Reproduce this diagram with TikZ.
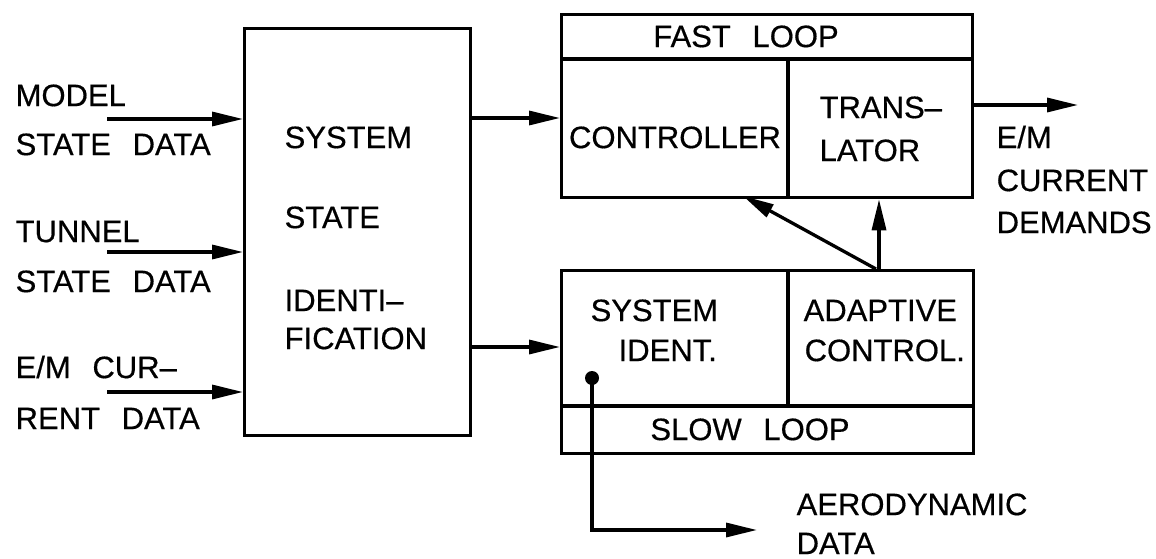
\documentclass[tikz,border=0pt]{standalone}
\usepackage{fontspec}
\setmainfont{Liberation Sans}[FakeBold=0.5]
\usetikzlibrary{arrows.meta}
\newcommand\wsp{\hspace{0.7em}}
\begin{document}
\begin{tikzpicture}[x=1pt,y=-1pt,line width=3.3pt,
  lbl/.style={font=\fontsize{31}{36}\selectfont,inner sep=0pt,text height=22.2pt,text depth=0pt,anchor=west},
  clbl/.style={lbl,anchor=center},
  box/.style={draw,anchor=north west,inner sep=0pt},
  arr/.style={-{Triangle[length=31pt,width=14pt]}}]
\useasboundingbox (0,0) rectangle (1156,559);

% boxes
\node[box,minimum width=226pt,minimum height=407pt] (sysid) at (243,27) {};
\node[box,minimum width=411pt,minimum height=183pt] (fast) at (560,13) {};
\node[box,minimum width=412pt,minimum height=183pt] (slow) at (560,269) {};

% dividers
\coordinate (fdl) at (560,59);
\coordinate (fdr) at (971,59);
\coordinate (fvt) at (788,59);
\coordinate (fvb) at (788,196);
\draw (fdl) -- (fdr);
\draw (fvt) -- (fvb);
\coordinate (sdl) at (560,406);
\coordinate (sdr) at (972,406);
\coordinate (svt) at (788,269);
\coordinate (svb) at (788,406);
\draw (sdl) -- (sdr);
\draw (svt) -- (svb);

% left labels
\node[lbl] (l1a) at (14,95) {MODEL};
\node[lbl] (l1b) at (14,144) {STATE\wsp DATA};
\node[lbl] (l2a) at (14,231) {TUNNEL};
\node[lbl] (l2b) at (14,281) {STATE\wsp DATA};
\node[lbl] (l3a) at (14,367) {E/M\wsp CUR--};
\node[lbl] (l3b) at (14,418) {RENT\wsp DATA};

\coordinate (in1) at (107,119);
\coordinate (in2) at (107,252);
\coordinate (in3) at (107,392);
\draw[arr] (in1) -- (in1 -| sysid.west);
\draw[arr] (in2) -- (in2 -| sysid.west);
\draw[arr] (in3) -- (in3 -| sysid.west);

% system state identification text
\node[lbl] (t1) at (283,137) {SYSTEM};
\node[lbl] (t2) at (283,217) {STATE};
\node[lbl] (t3) at (283,300) {IDENTI--};
\node[lbl] (t4) at (283,338) {FICATION};

% outputs of left box
\coordinate (o1) at (469,118);
\coordinate (o2) at (469,347);
\draw[arr] (o1) -- (o1 -| fast.west);
\draw[arr] (o2) -- (o2 -| slow.west);

% fast loop texts
\node[clbl] (fl) at (746,36) {FAST\wsp LOOP};
\node[clbl] (ctl) at (675,137) {CONTROLLER};
\node[lbl] (tr1) at (818,107) {TRANS--};
\node[lbl] (tr2) at (818,150) {LATOR};

% slow loop texts
\node[lbl] (si1) at (589,310) {SYSTEM};
\node[lbl] (si2) at (617,350) {IDENT.};
\node[lbl] (ac1) at (802,310) {ADAPTIVE};
\node[lbl] (ac2) at (803,350) {CONTROL.};
\node[clbl] (sl) at (750,429) {SLOW\wsp LOOP};

% output arrow and label
\coordinate (out) at (971,105);
\coordinate (outend) at (1078,105);
\draw[arr] (out) -- (outend);
\node[lbl] (em1) at (995,137) {E/M};
\node[lbl] (em2) at (995,180) {CURRENT};
\node[lbl] (em3) at (995,222) {DEMANDS};

% slow to fast arrows
\coordinate (up1) at (879,269);
\coordinate (up2) at (876,269);
\coordinate (ctlcorner) at (743,196);
\draw[arr] (up1) -- (up1 |- fast.south);
\draw[arr] (up2) -- (ctlcorner);

% aerodynamic data
\node[circle,fill,inner sep=0pt,minimum size=14pt] (dot) at (592,378) {};
\coordinate (aeroend) at (757,530);
\draw[arr] (dot.center) |- (aeroend);
\node[lbl] (ae1) at (795,504) {AERODYNAMIC};
\node[lbl] (ae2) at (795,543) {DATA};
\end{tikzpicture}
\end{document}
